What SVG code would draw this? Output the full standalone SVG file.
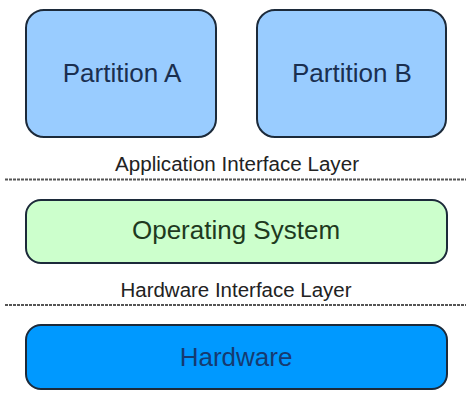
<svg xmlns="http://www.w3.org/2000/svg" width="466" height="407" viewBox="0 0 466 407">
<style>
.box{stroke:#1c2a3a;stroke-width:2}
.lbl{font-family:"Liberation Sans",Arial,sans-serif;font-size:26px;text-anchor:middle}
.layer{font-family:"Liberation Sans",Arial,sans-serif;font-size:20px;fill:#222;text-anchor:middle}
.sep{stroke:#555;stroke-width:2;stroke-dasharray:3 1}
</style>
<rect width="466" height="407" fill="#ffffff"/>
<g id="partition-a">
<rect class="box" x="26" y="10" width="190" height="127" rx="18" fill="#99ccff"/>
<text class="lbl" x="122" y="82" fill="#1a2f50">Partition A</text>
</g>
<g id="partition-b">
<rect class="box" x="257" y="10" width="189" height="127" rx="18" fill="#99ccff"/>
<text class="lbl" x="352" y="82" fill="#1a2f50">Partition B</text>
</g>
<g id="os">
<rect class="box" x="26" y="200" width="421" height="63" rx="15" fill="#ccffcc"/>
<text class="lbl" x="236" y="239" fill="#1e3a1e">Operating System</text>
</g>
<g id="hardware">
<rect class="box" x="26" y="325" width="421" height="64" rx="15" fill="#0099ff"/>
<text class="lbl" x="236" y="366" fill="#163a70">Hardware</text>
</g>
<g id="connectors">
<line class="sep" x1="5" y1="179.5" x2="466" y2="179.5"/>
<line class="sep" x1="5" y1="305" x2="466" y2="305"/>
</g>
<text class="layer" x="237" y="171" textLength="244" lengthAdjust="spacingAndGlyphs">Application Interface Layer</text>
<text class="layer" x="236" y="297" textLength="231" lengthAdjust="spacingAndGlyphs">Hardware Interface Layer</text>
</svg>
